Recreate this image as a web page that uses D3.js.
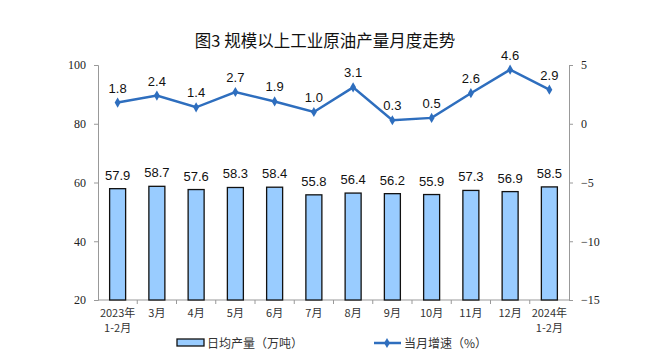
<!DOCTYPE html>
<html><head><meta charset="utf-8">
<script src="https://cdn.jsdelivr.net/npm/d3@7"></script>
<style>body{margin:0;background:#fff}</style>
</head><body>
<script>
const categories = ["2023年\n1-2月","3月","4月","5月","6月","7月","8月","9月","10月","11月","12月","2024年\n1-2月"];
const output = [57.9,58.7,57.6,58.3,58.4,55.8,56.4,56.2,55.9,57.3,56.9,58.5];
const growth = [1.8,2.4,1.4,2.7,1.9,1.0,3.1,0.3,0.5,2.6,4.6,2.9];
const leftTicks = [20,40,60,80,100];
const rightTicks = [-15,-10,-5,0,5];

const W=663,H=364;
const svg=d3.select("body").append("svg").attr("width",W).attr("height",H);
const L=98,R=569,T=65,B=300;
const x=d3.scaleBand().domain(categories).range([L,R]);
const yL=d3.scaleLinear().domain([20,100]).range([B,T]);
const yR=d3.scaleLinear().domain([-15,5]).range([B,T]);
const axisCol="#999";
const tickFont="'Liberation Serif','Times New Roman',serif";
const cjk="'Noto Sans CJK SC',sans-serif";

svg.append("text").attr("x",325).attr("y",47).attr("text-anchor","middle")
  .attr("font-family",cjk).attr("font-weight","normal").attr("font-size",16.5).attr("fill","#111")
  .style("white-space","pre").text("图3\u00a0规模以上工业原油产量月度走势");

// left axis
const gL=svg.append("g").attr("transform",`translate(${L},0)`)
  .call(d3.axisLeft(yL).tickValues(leftTicks).tickSize(4).tickPadding(8));
// right axis
const gR=svg.append("g").attr("transform",`translate(${R},0)`)
  .call(d3.axisRight(yR).tickValues(rightTicks).tickSize(4).tickPadding(8));
[gL,gR].forEach(g=>{
  g.selectAll("path,line").attr("stroke",axisCol);
  g.selectAll("text").attr("font-family",tickFont).attr("font-size",12).attr("fill","#222");
});
// bottom axis line + ticks between bands
svg.append("line").attr("x1",L).attr("x2",R).attr("y1",B).attr("y2",B).attr("stroke",axisCol);
categories.forEach((c,i)=>{
  if(i===0) return;
  const xx=x(c);
  svg.append("line").attr("x1",xx).attr("x2",xx).attr("y1",B).attr("y2",B+4).attr("stroke",axisCol);
});
// x labels
categories.forEach(c=>{
  const lines=c.split("\n");
  const t=svg.append("text").attr("x",x(c)+x.bandwidth()/2).attr("y",B+17).attr("text-anchor","middle")
    .attr("font-family",cjk).attr("font-size",11).attr("fill","#333");
  lines.forEach((ln,j)=>t.append("tspan").attr("x",x(c)+x.bandwidth()/2).attr("dy",j?15:0).text(ln));
});

// bars
const bw=16;
svg.selectAll("rect.bar").data(output).join("rect")
  .attr("x",(d,i)=>x(categories[i])+x.bandwidth()/2-bw/2).attr("width",bw)
  .attr("y",d=>yL(d)).attr("height",d=>B-yL(d))
  .attr("fill","#99CCFF").attr("stroke","#111").attr("stroke-width",1.3);
svg.selectAll("text.bl").data(output).join("text")
  .attr("x",(d,i)=>x(categories[i])+x.bandwidth()/2).attr("y",d=>yL(d)-9)
  .attr("text-anchor","middle").attr("font-family","'Liberation Sans',Arial,sans-serif").attr("font-size",13)
  .attr("fill","#111").text(d=>d.toFixed(1));

// line
const lineCol="#2E6EBE";
const line=d3.line().x((d,i)=>x(categories[i])+x.bandwidth()/2).y(d=>yR(d));
svg.append("path").datum(growth).attr("d",line).attr("fill","none").attr("stroke",lineCol).attr("stroke-width",2.5);
const diamond=d3.symbol().type(d3.symbolDiamond).size(30);
svg.selectAll("path.mk").data(growth).join("path")
  .attr("transform",(d,i)=>`translate(${x(categories[i])+x.bandwidth()/2},${yR(d)})`)
  .attr("d",diamond).attr("fill",lineCol);
svg.selectAll("text.ll").data(growth).join("text")
  .attr("x",(d,i)=>x(categories[i])+x.bandwidth()/2).attr("y",d=>yR(d)-10)
  .attr("text-anchor","middle").attr("font-family","'Liberation Sans',Arial,sans-serif").attr("font-size",13)
  .attr("fill","#111").text(d=>d.toFixed(1));

// legend
svg.append("rect").attr("x",177).attr("y",339).attr("width",27).attr("height",7)
  .attr("fill","#99CCFF").attr("stroke","#111").attr("stroke-width",1.3);
svg.append("text").attr("x",207).attr("y",348).attr("font-family",cjk).attr("font-size",12).attr("fill","#333").text("日均产量（万吨）");
svg.append("line").attr("x1",374).attr("x2",401).attr("y1",343).attr("y2",343).attr("stroke",lineCol).attr("stroke-width",2.5);
svg.append("path").attr("transform","translate(387,343)").attr("d",diamond).attr("fill",lineCol);
svg.append("text").attr("x",404).attr("y",348).attr("font-family",cjk).attr("font-size",12).attr("fill","#333").text("当月增速（%）");
</script>
</body></html>
